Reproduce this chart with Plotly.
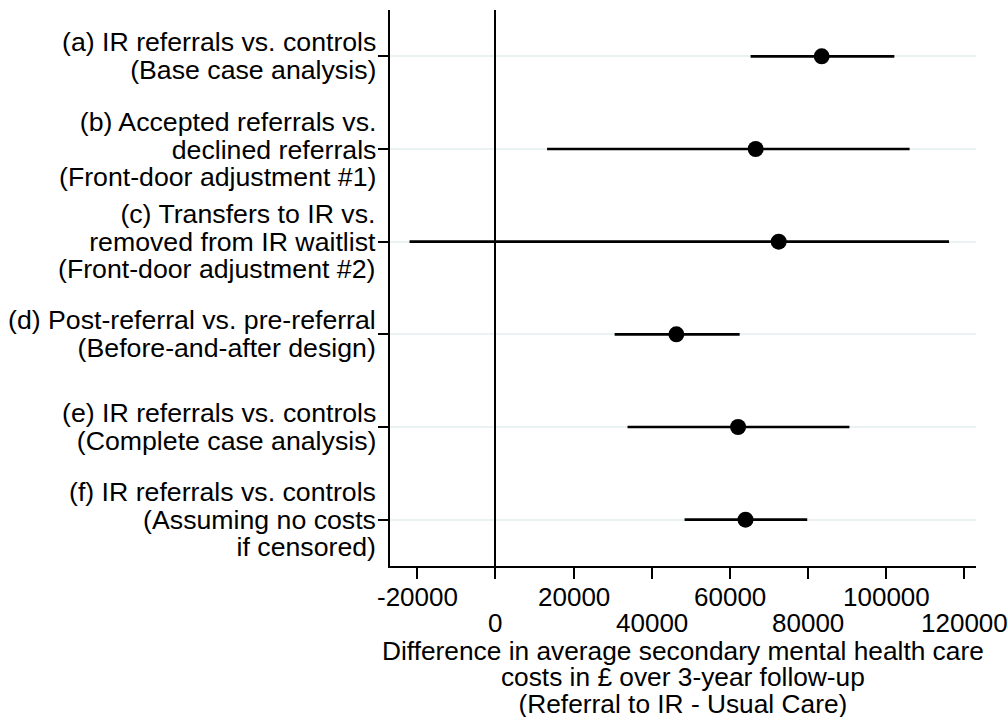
import plotly.graph_objects as go

labels = [
    ["(a) IR referrals vs. controls", "(Base case analysis)"],
    ["(b) Accepted referrals vs.", "declined referrals", "(Front-door adjustment #1)"],
    ["(c) Transfers to IR vs.", "removed from IR waitlist", "(Front-door adjustment #2)"],
    ["(d) Post-referral vs. pre-referral", "(Before-and-after design)"],
    ["(e) IR referrals vs. controls", "(Complete case analysis)"],
    ["(f) IR referrals vs. controls", "(Assuming no costs", "if censored)"],
]
estimate = [83500, 66600, 72500, 46300, 62100, 64000]
ci_low = [65300, 13200, -22000, 30500, 33800, 48400]
ci_high = [102100, 106000, 116100, 62500, 90600, 79800]

xtick_vals = [-20000, 0, 20000, 40000, 60000, 80000, 100000, 120000]
xtick_text = ["-20000", "0", "20000", "40000", "60000", "80000", "100000", "120000"]
x_title = ["Difference in average secondary mental health care",
           "costs in £ over 3-year follow-up",
           "(Referral to IR - Usual Care)"]

ypos = list(range(1, len(labels) + 1))

fig = go.Figure()
fig.add_trace(go.Scatter(
    x=estimate, y=ypos, mode="markers",
    marker=dict(color="black", size=16),
    error_x=dict(type="data", symmetric=False,
                 array=[h - e for h, e in zip(ci_high, estimate)],
                 arrayminus=[e - l for e, l in zip(estimate, ci_low)],
                 width=0, thickness=2.6, color="black"),
    showlegend=False,
))

FAM = "Liberation Sans, Arial, sans-serif"
font = dict(family=FAM, size=26, color="black")


def tight(lines, size, spacing):
    """Multi-line text whose glyph size is `size` px and line pitch `spacing` px."""
    body = "<br>".join(f"<span style='font-size:{size}px'>{ln}</span>" for ln in lines)
    return body, dict(family=FAM, size=spacing / 1.3, color="black")


annotations = []
# y-axis category labels
for yv, lines in zip(ypos, labels):
    txt, f = tight(lines, 26.7, 27.5)
    annotations.append(dict(
        x=0, xref="paper", y=yv, yref="y", text=txt, showarrow=False,
        xanchor="right", yanchor="middle", align="right", xshift=-12, font=f,
    ))
# staggered x tick labels
for k, (xv, tx) in enumerate(zip(xtick_vals, xtick_text)):
    annotations.append(dict(
        x=xv, xref="x", y=0, yref="paper", text=tx, showarrow=False,
        xanchor="center", yanchor="middle",
        yshift=-31 if k % 2 == 0 else -57, font=font,
    ))
# x-axis title
txt, f = tight(x_title, 26.3, 26.3)
annotations.append(dict(
    x=0.5, xref="paper", y=0, yref="paper", text=txt, showarrow=False,
    xanchor="center", yanchor="top", align="center", yshift=-68, font=f,
))

fig.update_layout(
    width=1008, height=717,
    margin=dict(l=390, r=32, t=10, b=151),
    paper_bgcolor="white", plot_bgcolor="white",
    font=font,
    annotations=annotations,
)
fig.update_xaxes(
    range=[-27000, 123000],
    tickvals=xtick_vals, showticklabels=False,
    ticks="outside", ticklen=11, tickwidth=1.5, tickcolor="black",
    showline=True, linecolor="black", linewidth=1.5,
    showgrid=False,
    zeroline=True, zerolinecolor="black", zerolinewidth=2,
)
fig.update_yaxes(
    range=[6.5, 0.5],
    tickvals=ypos, showticklabels=False,
    ticks="outside", ticklen=10, tickwidth=1.5, tickcolor="black",
    showline=True, linecolor="black", linewidth=1.5,
    showgrid=True, gridcolor="#eaf2f3", gridwidth=2,
    zeroline=False,
)

fig.write_html("out.html")
